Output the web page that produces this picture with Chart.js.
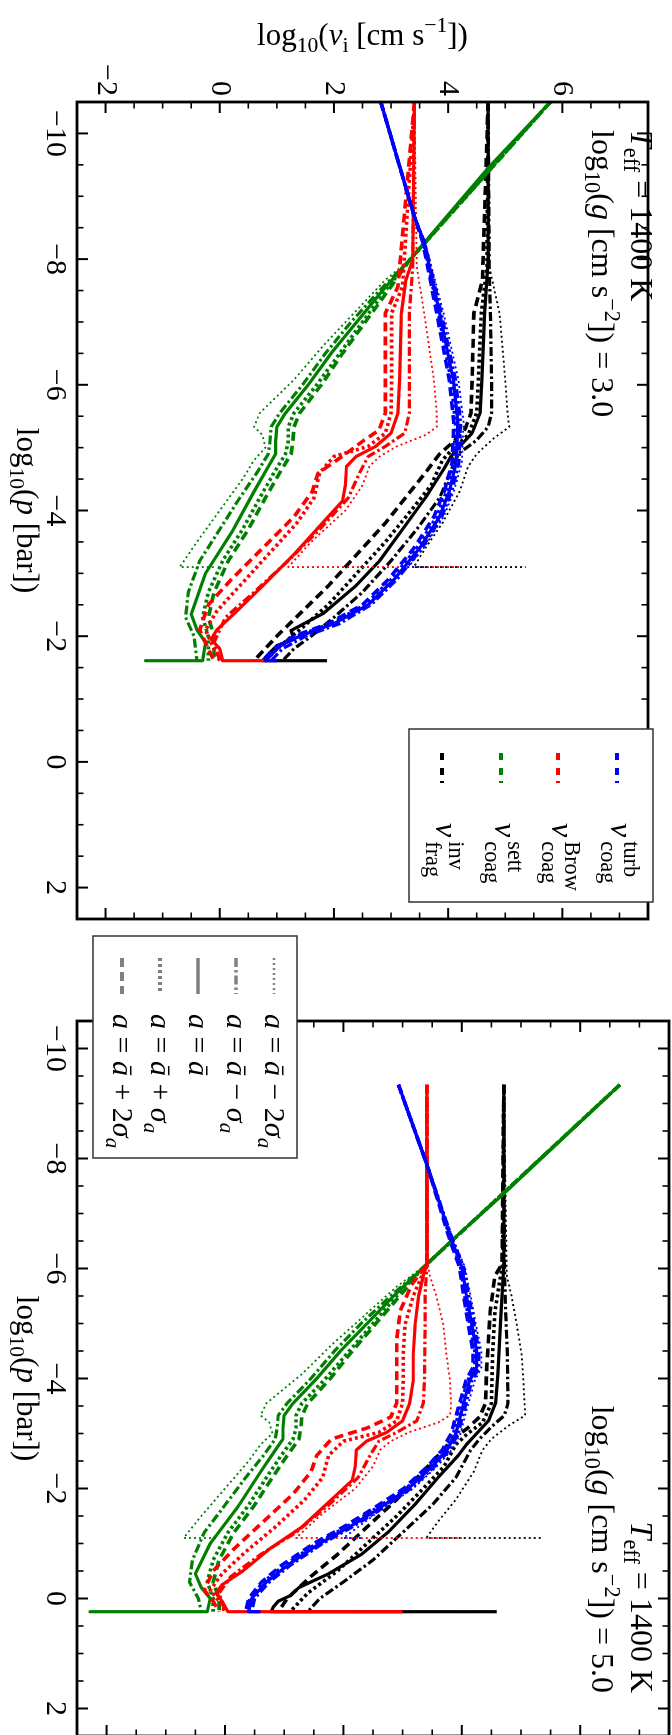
<!DOCTYPE html>
<html><head><meta charset="utf-8">
<script src="https://cdn.jsdelivr.net/npm/chart.js@4.4.1/dist/chart.umd.min.js"></script>
<style>
html,body{margin:0;padding:0;background:#fff;overflow:hidden;width:672px;height:1735px;}
#rot{position:absolute;left:0;top:0;width:1740px;height:672px;transform-origin:0 0;transform:translateX(672px) rotate(90deg);}
#w1{position:absolute;left:0;top:0;width:925px;height:672px;}
#w2{position:absolute;left:913px;top:0;width:827px;height:672px;}
canvas{display:block;}
</style></head>
<body>
<div id="rot"><div id="w1"><canvas id="c1" width="925" height="672"></canvas></div><div id="w2"><canvas id="c2" width="827" height="672"></canvas></div></div>
<script>
// ---------- axes ----------
const P_TICKS = [-10, -8, -6, -4, -2, 0, 2];
const V_TICKS = [-2, 0, 2, 4, 6];
const P_MIN = -10.5, P_MAX = 2.5;
const V_MIN = -2.5, V_MAX = 7.5;

// ---------- panel 1 : log g = 3.0  (points are [log10 p, log10 v]) ----------
const g3_turb_m2 = [[-10.5,2.82],[-8.67,3.41],[-8.26,3.6],[-7.14,3.92],[-6.08,4.18],[-5.4,4.27],[-4.76,4.24],[-4.3,4.1],[-3.9,3.92],[-3.4,3.57],[-3.1,3.3],[-3.1,3.6]];
const g3_turb_m1 = [[-10.5,2.82],[-8.67,3.41],[-8.26,3.59],[-7.14,3.88],[-6.08,4.13],[-5.4,4.22],[-4.76,4.19],[-4.3,4.06],[-3.9,3.89],[-3.4,3.54],[-2.9,3.1],[-2.5,2.65],[-2.2,2.1],[-2.0,1.5],[-1.8,1.1],[-1.61,0.9]];
const g3_turb_s  = [[-10.5,2.82],[-8.67,3.41],[-8.26,3.58],[-7.14,3.85],[-6.08,4.09],[-5.4,4.17],[-4.76,4.14],[-4.3,4.02],[-3.9,3.85],[-3.4,3.5],[-2.9,3.05],[-2.5,2.6],[-2.2,2.0],[-2.0,1.4],[-1.85,1.05],[-1.7,0.9],[-1.61,0.8],[-1.61,1.0]];
const g3_turb_p1 = [[-10.5,2.82],[-8.67,3.41],[-8.26,3.57],[-7.14,3.83],[-6.08,4.05],[-5.4,4.13],[-4.76,4.1],[-4.3,3.97],[-3.9,3.8],[-3.4,3.45],[-2.9,3.0],[-2.5,2.55],[-2.2,1.95],[-2.0,1.35],[-1.8,1.0],[-1.61,0.8]];
const g3_turb_p2 = [[-10.5,2.82],[-8.67,3.41],[-8.26,3.56],[-7.14,3.8],[-6.08,4.02],[-5.4,4.1],[-4.76,4.07],[-4.3,3.93],[-3.9,3.75],[-3.4,3.4],[-2.9,2.95],[-2.5,2.5],[-2.2,1.9],[-2.0,1.3],[-1.8,0.95],[-1.61,0.75]];

const g3_brow_m2 = [[-10.5,3.41],[-7.88,3.45],[-7.14,3.58],[-6.08,3.75],[-5.55,3.8],[-5.33,3.8],[-5.2,3.6],[-5.02,3.1],[-4.86,2.8],[-4.7,2.62],[-4.4,2.5],[-4.0,2.2],[-3.5,1.6],[-3.1,1.2],[-3.1,4.24]];
const g3_brow_m1 = [[-10.5,3.41],[-7.88,3.38],[-7.14,3.32],[-6.08,3.32],[-5.55,3.32],[-5.23,3.24],[-5.02,2.9],[-4.86,2.6],[-4.6,2.45],[-4.2,2.25],[-3.7,1.75],[-3.2,1.2],[-2.7,0.6],[-2.3,0.1],[-1.9,-0.1],[-1.61,0.0]];
const g3_brow_s  = [[-10.5,3.41],[-7.99,3.38],[-7.67,3.26],[-7.14,3.18],[-6.08,3.15],[-5.55,3.12],[-5.23,3.0],[-5.02,2.73],[-4.86,2.39],[-4.7,2.22],[-4.4,2.2],[-4.15,2.15],[-3.8,1.8],[-3.3,1.3],[-2.8,0.75],[-2.4,0.3],[-2.1,-0.05],[-1.95,-0.15],[-1.8,0.0],[-1.61,0.05],[-1.61,0.8]];
const g3_brow_p1 = [[-10.5,3.41],[-7.56,3.2],[-7.14,3.01],[-6.08,3.01],[-5.55,3.0],[-5.23,2.9],[-5.02,2.6],[-4.86,2.0],[-4.6,1.75],[-4.2,1.65],[-3.8,1.35],[-3.3,0.85],[-2.8,0.35],[-2.4,-0.05],[-2.1,-0.25],[-1.8,-0.1],[-1.61,0.0]];
const g3_brow_p2 = [[-10.5,3.41],[-7.56,3.12],[-7.14,2.9],[-6.08,2.9],[-5.55,2.9],[-5.28,2.79],[-5.1,2.5],[-4.91,2.22],[-4.59,1.72],[-4.3,1.62],[-3.9,1.3],[-3.4,0.75],[-2.9,0.2],[-2.5,-0.2],[-2.1,-0.35],[-1.8,-0.2],[-1.61,-0.1]];

const g3_sett_m2 = [[-10.5,5.79],[-7.99,3.33],[-7.67,2.9],[-7.14,2.35],[-6.61,1.8],[-6.08,1.3],[-5.55,0.7],[-5.33,0.6],[-5.2,0.75],[-5.0,0.8],[-4.8,0.6],[-4.5,0.4],[-4.0,0.0],[-3.5,-0.4],[-3.1,-0.7],[-3.1,-0.1]];
const g3_sett_m1 = [[-10.5,5.79],[-7.99,3.33],[-7.5,2.8],[-7.0,2.3],[-6.5,1.85],[-6.0,1.45],[-5.55,1.05],[-5.33,0.9],[-5.1,0.88],[-4.9,0.85],[-4.6,0.65],[-4.2,0.35],[-3.7,0.0],[-3.2,-0.35],[-2.7,-0.55],[-2.3,-0.6],[-2.0,-0.45],[-1.61,-0.4]];
const g3_sett_s  = [[-10.5,5.79],[-9.45,4.70],[-8.26,3.58],[-7.99,3.33],[-7.5,2.85],[-7.0,2.4],[-6.5,1.95],[-6.0,1.55],[-5.55,1.15],[-5.33,1.0],[-5.1,0.98],[-4.9,0.98],[-4.7,0.85],[-4.3,0.6],[-3.67,0.22],[-3.0,-0.25],[-2.35,-0.5],[-2.1,-0.4],[-1.9,-0.25],[-1.61,-0.3],[-1.61,-1.3]];
const g3_sett_p1 = [[-10.5,5.79],[-7.99,3.33],[-7.5,2.9],[-7.0,2.5],[-6.5,2.1],[-6.0,1.7],[-5.55,1.3],[-5.33,1.2],[-5.1,1.2],[-4.9,1.15],[-4.6,0.95],[-4.2,0.7],[-3.7,0.4],[-3.2,0.05],[-2.7,-0.2],[-2.3,-0.3],[-2.0,-0.2],[-1.61,-0.2]];
const g3_sett_p2 = [[-10.5,5.79],[-7.99,3.33],[-7.5,2.95],[-7.0,2.55],[-6.5,2.15],[-6.0,1.78],[-5.55,1.4],[-5.33,1.3],[-5.1,1.28],[-4.9,1.25],[-4.6,1.05],[-4.2,0.8],[-3.7,0.5],[-3.2,0.15],[-2.7,-0.1],[-2.3,-0.2],[-2.0,-0.1],[-1.61,-0.1]];

const g3_frag_m2 = [[-10.5,4.70],[-7.88,4.72],[-7.14,4.9],[-6.08,5.0],[-5.55,5.04],[-5.33,5.07],[-5.15,4.8],[-4.9,4.5],[-4.7,4.35],[-4.3,4.2],[-3.8,3.9],[-3.4,3.6],[-3.1,3.4],[-3.1,5.36]];
const g3_frag_m1 = [[-10.5,4.70],[-7.88,4.72],[-7.14,4.74],[-6.08,4.76],[-5.55,4.76],[-5.33,4.7],[-5.12,4.5],[-4.91,4.19],[-4.7,4.08],[-4.2,3.85],[-3.7,3.45],[-3.2,3.0],[-2.7,2.5],[-2.3,2.0],[-2.0,1.6],[-1.8,1.3],[-1.61,1.1]];
const g3_frag_s  = [[-10.5,4.70],[-7.99,4.70],[-7.14,4.64],[-6.08,4.59],[-5.55,4.56],[-5.23,4.42],[-5.02,4.2],[-4.86,4.05],[-4.64,3.91],[-4.2,3.6],[-3.7,3.2],[-3.2,2.8],[-2.79,2.37],[-2.36,1.81],[-2.09,1.25],[-1.95,1.3],[-1.85,1.0],[-1.73,0.87],[-1.61,0.75],[-1.61,1.88]];
const g3_frag_p1 = [[-10.5,4.70],[-7.88,4.68],[-7.14,4.58],[-6.08,4.53],[-5.55,4.5],[-5.2,4.35],[-5.0,4.1],[-4.8,3.9],[-4.4,3.7],[-4.0,3.35],[-3.5,2.9],[-3.0,2.4],[-2.5,1.9],[-2.1,1.4],[-1.8,1.0],[-1.61,0.8]];
const g3_frag_p2 = [[-10.5,4.70],[-7.67,4.6],[-7.14,4.45],[-6.08,4.42],[-5.55,4.4],[-5.3,4.3],[-5.1,4.1],[-4.9,3.85],[-4.6,3.6],[-4.2,3.25],[-3.8,2.9],[-3.3,2.4],[-2.8,1.9],[-2.4,1.45],[-2.0,1.0],[-1.61,0.6]];

// ---------- panel 2 : log g = 5.0 ----------
const g5_turb_m2 = [[-9.34,2.93],[-7.89,3.41],[-6.51,3.86],[-6.03,4.05],[-5.5,4.15],[-4.97,4.24],[-4.5,4.33],[-4.2,4.33],[-3.96,4.22],[-3.5,4.1],[-3.0,3.98],[-2.7,3.83],[-2.4,3.58],[-2.0,3.18],[-1.6,2.62],[-1.1,2.0],[-1.1,2.3]];
const g5_turb_m1 = [[-9.34,2.93],[-7.89,3.41],[-6.51,3.85],[-6.03,4.03],[-5.5,4.12],[-4.97,4.21],[-4.5,4.29],[-4.2,4.29],[-3.96,4.17],[-3.5,4.06],[-3.0,3.94],[-2.7,3.79],[-2.4,3.54],[-2.0,3.14],[-1.6,2.6],[-1.3,2.15],[-1.0,1.65],[-0.6,1.1],[-0.3,0.75],[0.0,0.5],[0.24,0.45]];
const g5_turb_s  = [[-9.34,2.93],[-7.89,3.41],[-6.51,3.83],[-6.03,4.0],[-5.5,4.08],[-4.97,4.17],[-4.5,4.25],[-4.2,4.25],[-3.96,4.13],[-3.5,4.02],[-3.0,3.9],[-2.7,3.75],[-2.4,3.5],[-2.0,3.1],[-1.6,2.55],[-1.3,2.1],[-1.0,1.6],[-0.6,1.05],[-0.3,0.7],[0.0,0.45],[0.24,0.4],[0.24,0.6]];
const g5_turb_p1 = [[-9.34,2.93],[-7.89,3.41],[-6.51,3.82],[-6.03,3.98],[-5.5,4.05],[-4.97,4.14],[-4.5,4.22],[-4.2,4.22],[-3.96,4.1],[-3.5,3.98],[-3.0,3.86],[-2.7,3.71],[-2.4,3.46],[-2.0,3.06],[-1.6,2.5],[-1.3,2.05],[-1.0,1.55],[-0.6,1.0],[-0.3,0.65],[0.0,0.42],[0.24,0.38]];
const g5_turb_p2 = [[-9.34,2.93],[-7.89,3.41],[-6.51,3.8],[-6.03,3.96],[-5.5,4.03],[-4.97,4.11],[-4.5,4.19],[-4.2,4.19],[-3.96,4.07],[-3.5,3.95],[-3.0,3.82],[-2.7,3.67],[-2.4,3.42],[-2.0,3.02],[-1.6,2.45],[-1.3,2.0],[-1.0,1.5],[-0.6,0.95],[-0.3,0.62],[0.0,0.4],[0.24,0.35]];

const g5_brow_m2 = [[-9.34,3.41],[-6.08,3.43],[-5.87,3.46],[-5.5,3.57],[-4.97,3.69],[-4.44,3.74],[-3.96,3.8],[-3.5,3.82],[-3.33,3.8],[-3.2,3.6],[-3.02,3.1],[-2.86,2.8],[-2.7,2.62],[-2.4,2.5],[-2.0,2.2],[-1.5,1.6],[-1.1,1.2],[-1.1,4.0]];
const g5_brow_m1 = [[-9.34,3.41],[-6.08,3.41],[-5.5,3.38],[-4.97,3.38],[-3.96,3.37],[-3.55,3.35],[-3.23,3.24],[-3.02,2.9],[-2.86,2.6],[-2.6,2.45],[-2.2,2.25],[-1.7,1.75],[-1.2,1.2],[-0.8,0.6],[-0.4,0.1],[-0.1,-0.1],[0.24,0.0]];
const g5_brow_s  = [[-9.34,3.41],[-6.08,3.41],[-5.87,3.35],[-5.5,3.27],[-4.97,3.21],[-4.44,3.18],[-3.96,3.18],[-3.55,3.12],[-3.23,3.0],[-3.02,2.73],[-2.86,2.39],[-2.7,2.22],[-2.4,2.2],[-2.15,2.15],[-1.8,1.8],[-1.3,1.3],[-0.9,0.75],[-0.5,0.3],[-0.25,-0.05],[-0.1,-0.15],[0.05,-0.05],[0.24,0.05],[0.24,3.0]];
const g5_brow_p1 = [[-9.34,3.41],[-6.08,3.41],[-5.5,3.18],[-4.97,3.04],[-4.44,3.01],[-3.96,3.01],[-3.55,3.0],[-3.23,2.9],[-3.02,2.6],[-2.86,2.0],[-2.6,1.75],[-2.2,1.65],[-1.8,1.35],[-1.3,0.85],[-0.85,0.35],[-0.45,-0.05],[-0.15,-0.25],[0.05,-0.1],[0.24,0.0]];
const g5_brow_p2 = [[-9.34,3.41],[-6.08,3.41],[-5.7,3.15],[-5.23,2.96],[-4.7,2.9],[-3.96,2.9],[-3.55,2.9],[-3.3,2.8],[-3.1,2.4],[-2.9,1.8],[-2.6,1.55],[-2.3,1.45],[-1.9,1.15],[-1.4,0.65],[-0.9,0.15],[-0.5,-0.2],[-0.15,-0.35],[0.05,-0.2],[0.24,-0.1]];

const g5_sett_m2 = [[-9.34,6.67],[-6.08,3.41],[-5.67,2.9],[-5.14,2.35],[-4.61,1.8],[-4.08,1.3],[-3.55,0.7],[-3.33,0.6],[-3.2,0.75],[-3.0,0.8],[-2.8,0.6],[-2.5,0.4],[-2.0,0.0],[-1.5,-0.4],[-1.1,-0.7],[-1.1,-0.1]];
const g5_sett_m1 = [[-9.34,6.67],[-6.08,3.41],[-5.5,2.8],[-5.0,2.3],[-4.5,1.85],[-4.0,1.45],[-3.55,1.05],[-3.33,0.9],[-3.1,0.88],[-2.9,0.85],[-2.6,0.65],[-2.2,0.35],[-1.7,0.0],[-1.2,-0.35],[-0.7,-0.55],[-0.3,-0.6],[0.0,-0.45],[0.24,-0.4]];
const g5_sett_s  = [[-9.34,6.67],[-7.35,4.70],[-6.51,3.83],[-6.08,3.41],[-5.5,2.85],[-5.0,2.4],[-4.5,1.95],[-4.0,1.55],[-3.55,1.15],[-3.33,1.0],[-3.1,0.98],[-2.9,0.98],[-2.7,0.85],[-2.3,0.6],[-1.67,0.22],[-1.0,-0.25],[-0.45,-0.5],[-0.2,-0.4],[0.0,-0.25],[0.24,-0.3],[0.24,-2.28]];
const g5_sett_p1 = [[-9.34,6.67],[-6.08,3.41],[-5.5,2.9],[-5.0,2.5],[-4.5,2.1],[-4.0,1.7],[-3.55,1.3],[-3.33,1.2],[-3.1,1.2],[-2.9,1.15],[-2.6,0.95],[-2.2,0.7],[-1.7,0.4],[-1.2,0.05],[-0.7,-0.2],[-0.3,-0.3],[0.0,-0.2],[0.24,-0.2]];
const g5_sett_p2 = [[-9.34,6.67],[-6.08,3.41],[-5.5,2.95],[-5.0,2.55],[-4.5,2.15],[-4.0,1.78],[-3.55,1.4],[-3.33,1.3],[-3.1,1.28],[-2.9,1.25],[-2.6,1.05],[-2.2,0.8],[-1.7,0.5],[-1.2,0.15],[-0.7,-0.1],[-0.3,-0.2],[0.0,-0.1],[0.24,-0.1]];

const g5_frag_m2 = [[-9.34,4.71],[-5.87,4.76],[-5.5,4.84],[-4.97,4.93],[-4.44,5.01],[-3.96,5.04],[-3.33,5.07],[-3.15,4.8],[-2.9,4.5],[-2.7,4.35],[-2.3,4.2],[-1.8,3.9],[-1.4,3.6],[-1.1,3.4],[-1.1,5.36]];
const g5_frag_m1 = [[-9.34,4.71],[-6.08,4.72],[-5.23,4.74],[-4.44,4.77],[-3.55,4.78],[-3.33,4.72],[-3.12,4.5],[-2.9,4.3],[-2.7,4.15],[-2.2,3.9],[-1.7,3.5],[-1.2,3.0],[-0.7,2.5],[-0.3,2.0],[0.0,1.6],[0.24,1.4]];
const g5_frag_s  = [[-9.34,4.71],[-6.08,4.71],[-5.14,4.66],[-4.08,4.61],[-3.55,4.57],[-3.23,4.45],[-3.0,4.25],[-2.8,4.08],[-2.6,3.94],[-2.2,3.6],[-1.7,3.2],[-1.2,2.75],[-0.8,2.3],[-0.45,1.75],[-0.2,1.25],[-0.05,1.1],[0.05,0.9],[0.15,0.82],[0.24,0.78],[0.24,4.59]];
const g5_frag_p1 = [[-9.34,4.71],[-6.08,4.69],[-5.23,4.56],[-4.44,4.52],[-3.55,4.5],[-3.2,4.35],[-3.0,4.1],[-2.8,3.9],[-2.4,3.7],[-2.0,3.35],[-1.5,2.9],[-1.0,2.4],[-0.5,1.9],[-0.1,1.4],[0.24,1.1]];
const g5_frag_p2 = [[-9.34,4.71],[-6.08,4.68],[-5.87,4.56],[-5.23,4.48],[-4.17,4.42],[-3.55,4.4],[-3.3,4.3],[-3.1,4.1],[-2.9,3.85],[-2.6,3.6],[-2.2,3.25],[-1.8,2.9],[-1.3,2.4],[-0.8,1.9],[-0.4,1.45],[0.0,1.05],[0.24,0.9]];

// ---------- styles ----------
const FONT = '"Liberation Serif", "DejaVu Serif", serif';
const COLORS = { turb: '#0000ff', brow: '#ff0000', sett: '#008000', frag: '#000000' };
const STYLES = {
  m2: { w: 1.8, dash: [2, 3] },
  m1: { w: 3.2, dash: [9, 3, 2.5, 3] },
  s:  { w: 3.2, dash: [] },
  p1: { w: 3.6, dash: [3, 3] },
  p2: { w: 3.6, dash: [9, 5] }
};

function pts(a) { return a.map(d => ({ x: d[0], y: d[1] })); }
function makeSets(series) {
  const out = [];
  for (const q of ['turb', 'brow', 'sett', 'frag']) {
    for (const st of ['m2', 'm1', 'p1', 'p2', 's']) {
      out.push({
        label: q + '_' + st, data: pts(series[q + '_' + st]), showLine: true,
        borderColor: COLORS[q], backgroundColor: COLORS[q], borderWidth: STYLES[st].w,
        borderDash: STYLES[st].dash, pointRadius: 0, tension: 0, clip: 0,
        borderCapStyle: 'butt', borderJoinStyle: 'round'
      });
    }
  }
  return out;
}
const panel1 = { turb_m2: g3_turb_m2, turb_m1: g3_turb_m1, turb_s: g3_turb_s, turb_p1: g3_turb_p1, turb_p2: g3_turb_p2,
  brow_m2: g3_brow_m2, brow_m1: g3_brow_m1, brow_s: g3_brow_s, brow_p1: g3_brow_p1, brow_p2: g3_brow_p2,
  sett_m2: g3_sett_m2, sett_m1: g3_sett_m1, sett_s: g3_sett_s, sett_p1: g3_sett_p1, sett_p2: g3_sett_p2,
  frag_m2: g3_frag_m2, frag_m1: g3_frag_m1, frag_s: g3_frag_s, frag_p1: g3_frag_p1, frag_p2: g3_frag_p2 };
const panel2 = { turb_m2: g5_turb_m2, turb_m1: g5_turb_m1, turb_s: g5_turb_s, turb_p1: g5_turb_p1, turb_p2: g5_turb_p2,
  brow_m2: g5_brow_m2, brow_m1: g5_brow_m1, brow_s: g5_brow_s, brow_p1: g5_brow_p1, brow_p2: g5_brow_p2,
  sett_m2: g5_sett_m2, sett_m1: g5_sett_m1, sett_s: g5_sett_s, sett_p1: g5_sett_p1, sett_p2: g5_sett_p2,
  frag_m2: g5_frag_m2, frag_m1: g5_frag_m1, frag_s: g5_frag_s, frag_p1: g5_frag_p1, frag_p2: g5_frag_p2 };

// ---------- rich text ----------
function fnt(size, it) { return (it ? 'italic ' : '') + size + 'px ' + FONT; }
function partW(ctx, p, size) {
  if (p.stack) {
    ctx.font = fnt(size * 0.7, false);
    return Math.max(ctx.measureText(p.stack[0]).width, ctx.measureText(p.stack[1]).width);
  }
  ctx.font = fnt((p.sub || p.sup) ? size * 0.7 : size, p.it);
  return ctx.measureText(p.t).width + (p.sp || 0);
}
function drawRich(ctx, parts, x, y, size, align) {
  let total = 0;
  for (const p of parts) total += partW(ctx, p, size);
  let cx = align === 'center' ? x - total / 2 : align === 'right' ? x - total : x;
  ctx.textBaseline = 'alphabetic'; ctx.textAlign = 'left'; ctx.fillStyle = '#000';
  for (const p of parts) {
    const w = partW(ctx, p, size);
    if (p.stack) {
      ctx.font = fnt(size * 0.7, false);
      ctx.fillText(p.stack[0], cx, y - size * 0.42);
      ctx.fillText(p.stack[1], cx, y + size * 0.3);
    } else {
      ctx.font = fnt((p.sub || p.sup) ? size * 0.7 : size, p.it);
      const dy = p.sub ? size * 0.22 : p.sup ? -size * 0.42 : 0;
      ctx.fillText(p.t, cx, y + dy);
    }
    cx += w;
  }
}
const TXT_PTITLE = [{ t: 'log' }, { t: '10', sub: true }, { t: '(' }, { t: 'p', it: true }, { t: ' [bar])' }];
const TXT_VTITLE = [{ t: 'log' }, { t: '10', sub: true }, { t: '(' }, { t: 'v', it: true }, { t: 'i', sub: true }, { t: ' [cm s' }, { t: '−1', sup: true }, { t: '])' }];
const TXT_TEFF = [{ t: 'T', it: true }, { t: 'eff', sub: true }, { t: ' = 1400 K' }];
function txtG(g) { return [{ t: 'log' }, { t: '10', sub: true }, { t: '(' }, { t: 'g', it: true }, { t: ' [cm s' }, { t: '−2', sup: true }, { t: ']) = ' + g }]; }
const LEG1 = [
  { c: COLORS.turb, sup: 'turb', sub: 'coag' },
  { c: COLORS.brow, sup: 'Brow', sub: 'coag' },
  { c: COLORS.sett, sup: 'sett', sub: 'coag' },
  { c: COLORS.frag, sup: 'inv', sub: 'frag' }
];
const LEG2 = [
  { st: 'm2', txt: [{ t: 'a', it: true }, { t: ' = ' }, { t: 'ā', it: true }, { t: ' − 2' }, { t: 'σ', it: true }, { t: 'a', it: true, sub: true }] },
  { st: 'm1', txt: [{ t: 'a', it: true }, { t: ' = ' }, { t: 'ā', it: true }, { t: ' − ' }, { t: 'σ', it: true }, { t: 'a', it: true, sub: true }] },
  { st: 's',  txt: [{ t: 'a', it: true }, { t: ' = ' }, { t: 'ā', it: true }] },
  { st: 'p1', txt: [{ t: 'a', it: true }, { t: ' = ' }, { t: 'ā', it: true }, { t: ' + ' }, { t: 'σ', it: true }, { t: 'a', it: true, sub: true }] },
  { st: 'p2', txt: [{ t: 'a', it: true }, { t: ' = ' }, { t: 'ā', it: true }, { t: ' + 2' }, { t: 'σ', it: true }, { t: 'a', it: true, sub: true }] }
];

// ---------- frame / ticks / texts plugin ----------
const framePlugin = {
  id: 'frame',
  afterDatasetsDraw(chart) {
    const ctx = chart.ctx, a = chart.chartArea, sx = chart.scales.x, sy = chart.scales.y;
    ctx.save();
    ctx.strokeStyle = '#000';
    const tick = (x1, y1, x2, y2, w) => { ctx.lineWidth = w; ctx.beginPath(); ctx.moveTo(x1, y1); ctx.lineTo(x2, y2); ctx.stroke(); };
    for (let v = P_MIN + 0.5; v < P_MAX; v += 0.5) {
      const major = P_TICKS.includes(v), L = major ? 11 : 6.5, w = major ? 2 : 1.6;
      const x = sx.getPixelForValue(v);
      tick(x, a.bottom, x, a.bottom - L, w); tick(x, a.top, x, a.top + L, w);
    }
    for (let v = V_MIN + 0.5; v < V_MAX; v += 0.5) {
      const major = V_TICKS.includes(v), L = major ? 11 : 6.5, w = major ? 2 : 1.6;
      const y = sy.getPixelForValue(v);
      tick(a.left, y, a.left + L, y, w); tick(a.right, y, a.right - L, y, w);
    }
    ctx.lineWidth = 2.8;
    ctx.strokeRect(a.left, a.top, a.right - a.left, a.bottom - a.top);
    const o = chart.options.plugins.frame;
    drawRich(ctx, TXT_PTITLE, (a.left + a.right) / 2, 655, 31, 'center');
    if (o.panel === 1) {
      ctx.save(); ctx.translate(45, (a.top + a.bottom) / 2); ctx.rotate(-Math.PI / 2);
      drawRich(ctx, TXT_VTITLE, 0, 0, 31, 'center'); ctx.restore();
      drawRich(ctx, TXT_TEFF, a.left + 28, 41, 32, 'left');
      drawRich(ctx, txtG('3.0'), a.left + 28, 80, 32, 'left');
      ctx.lineWidth = 1.5; ctx.strokeStyle = '#333'; ctx.fillStyle = '#fff';
      ctx.fillRect(729, 19, 173, 244); ctx.strokeRect(729, 19, 173, 244);
      const ys = [55, 114, 171, 230];
      LEG1.forEach((e, i) => {
        ctx.strokeStyle = e.c; ctx.lineWidth = 4; ctx.setLineDash([7, 8, 7, 6, 2, 100]);
        ctx.beginPath(); ctx.moveTo(753, ys[i]); ctx.lineTo(784, ys[i]); ctx.stroke(); ctx.setLineDash([]);
        drawRich(ctx, [{ t: 'v', it: true }, { t: ' ', sp: -4 }, { stack: [e.sup, e.sub] }], 823, ys[i] + 6, 32, 'left');
      });
    } else {
      drawRich(ctx, TXT_TEFF, a.right - 43, 41, 32, 'right');
      drawRich(ctx, txtG('5.0'), a.right - 43, 80, 32, 'right');
      const L = 23, T = 375, W = 222, H = 204;
      ctx.lineWidth = 1.5; ctx.strokeStyle = '#333'; ctx.fillStyle = '#fff';
      ctx.fillRect(L, T, W, H); ctx.strokeRect(L, T, W, H);
      const ys = [398, 436, 474, 512, 550];
      LEG2.forEach((e, i) => {
        ctx.strokeStyle = '#808080'; ctx.lineWidth = STYLES[e.st].w + 0.5; ctx.setLineDash(STYLES[e.st].dash);
        ctx.beginPath(); ctx.moveTo(L + 22, ys[i]); ctx.lineTo(L + 58, ys[i]); ctx.stroke(); ctx.setLineDash([]);
        drawRich(ctx, e.txt, L + 78, ys[i] + 9, 30, 'left');
      });
    }
    ctx.restore();
  }
};

function fmt(v) { return v < 0 ? '−' + (-v) : String(v); }
function makeChart(id, series, panel) {
  return new Chart(document.getElementById(id), {
    type: 'scatter',
    data: { datasets: makeSets(series) },
    options: {
      responsive: false, animation: false, devicePixelRatio: 1,
      layout: { padding: panel === 1 ? { left: 0, right: 6, top: 3, bottom: 0 } : { left: 6, right: 4, top: 3, bottom: 0 } },
      plugins: { legend: { display: false }, tooltip: { enabled: false }, frame: { panel } },
      scales: {
        x: {
          type: 'linear', min: P_MIN, max: P_MAX, position: 'bottom',
          grid: { display: false, drawTicks: false }, border: { display: false },
          ticks: { font: { family: FONT, size: 30 }, color: '#000', padding: 4, maxRotation: 0, autoSkip: false, callback: fmt },
          afterBuildTicks: s => { s.ticks = P_TICKS.map(v => ({ value: v })); },
          afterFit: s => { s.height = 77; }
        },
        y: {
          type: 'linear', min: V_MIN, max: V_MAX, position: 'left', display: panel === 1,
          grid: { display: false, drawTicks: false }, border: { display: false },
          ticks: { font: { family: FONT, size: 30 }, color: '#000', padding: 6, autoSkip: false, callback: fmt },
          afterBuildTicks: s => { s.ticks = V_TICKS.map(v => ({ value: v })); },
          afterFit: s => { s.width = 102; }
        }
      }
    },
    plugins: [framePlugin]
  });
}
makeChart('c1', panel1, 1);
makeChart('c2', panel2, 2);
</script>
</body></html>
